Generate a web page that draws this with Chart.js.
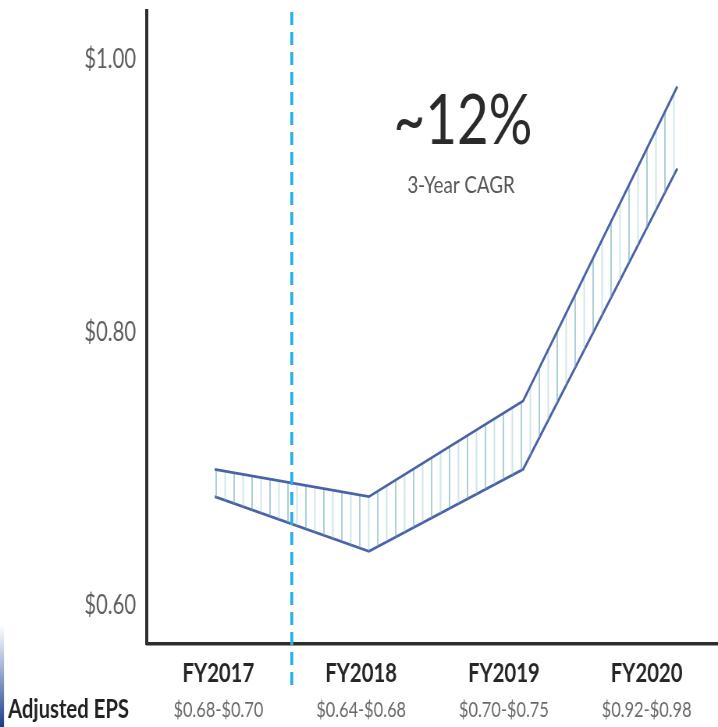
<!DOCTYPE html>
<html>
<head>
<meta charset="utf-8">
<script src="https://cdn.jsdelivr.net/npm/chart.js@4.4.1/dist/chart.umd.min.js"></script>
<style>
  html, body { margin: 0; padding: 0; background: #ffffff; overflow: hidden; }
  canvas { display: block; }
</style>
</head>
<body>
<!-- drawn on a wider backing canvas and shown narrower, giving the condensed slide lettering -->
<canvas id="eps" width="920" height="727" style="width:718px;height:727px"></canvas>
<script>
// Adjusted EPS guidance, low and high end of each range
const fiscalYears = ['FY2017', 'FY2018', 'FY2019', 'FY2020'];
const epsLow  = [0.68, 0.64, 0.70, 0.92];
const epsHigh = [0.70, 0.68, 0.75, 0.98];
const yTickValues = [0.60, 0.80, 1.00];
const rowLabel = 'Adjusted EPS';
const cagrLabel = '~12%';
const cagrCaption = '3-Year CAGR';
// dashed separator sits halfway between the first two fiscal years
const dividerAt = 0.5;

const money = v => '$' + Number(v).toFixed(2);
const epsRanges = epsLow.map((lo, i) => money(lo) + '-' + money(epsHigh[i]));

const canvas = document.getElementById('eps');
const ctx = canvas.getContext('2d');
const SX = canvas.width / 718; // horizontal factor between backing pixels and page pixels

// vertical hatching for the band between the two guidance lines
function hatchPattern() {
  const tile = document.createElement('canvas');
  tile.width = 23; tile.height = 8;
  const t = tile.getContext('2d');
  t.fillStyle = 'rgba(104,170,184,0.55)';
  t.fillRect(0, 0, 2, 8);
  t.fillStyle = 'rgba(140,196,206,0.42)';
  t.fillRect(11.5, 0, 2, 8);
  return ctx.createPattern(tile, 'repeat');
}

const noEdgePadding = s => {
  s.paddingTop = 0; s.paddingBottom = 0;
  s.paddingLeft = 0; s.paddingRight = 0;
};

const decorations = {
  id: 'decorations',
  afterDatasetsDraw(chart) {
    const { ctx, chartArea, scales } = chart;
    const x = scales.x2.getPixelForValue(dividerAt);
    ctx.save();
    ctx.strokeStyle = '#27b0e6';
    ctx.lineWidth = 3.8;
    ctx.setLineDash([13, 7]);
    ctx.beginPath();
    ctx.moveTo(x, chartArea.top + 1);
    ctx.lineTo(x, 690);
    ctx.stroke();
    ctx.restore();
  },
  afterDraw(chart) {
    const { ctx } = chart;
    ctx.save();
    ctx.textAlign = 'center';
    ctx.textBaseline = 'alphabetic';
    ctx.fillStyle = '#2a2a2a';
    ctx.font = '400 70px Lato';
    ctx.fillText(cagrLabel, 463 * SX, 144);
    ctx.fillStyle = '#555555';
    ctx.font = '400 24px Lato';
    ctx.fillText(cagrCaption, 461 * SX, 193);

    ctx.textAlign = 'left';
    ctx.fillStyle = '#222222';
    ctx.font = 'bold 26px Lato';
    ctx.fillText(rowLabel, 8 * SX, 718);

    // slide edge ornament at the lower left
    const g = ctx.createLinearGradient(0, 625, 0, 727);
    g.addColorStop(0, 'rgba(40,80,160,0)');
    g.addColorStop(1, '#1d3a84');
    ctx.fillStyle = g;
    ctx.fillRect(0, 625, 4 * SX, 102);
    ctx.restore();
  }
};

const lineColor = '#4a62a6';

new Chart(canvas, {
  type: 'line',
  data: {
    datasets: [
      {
        label: 'High',
        data: epsHigh.map((v, i) => ({ x: i, y: v })),
        borderColor: lineColor,
        borderWidth: 2.8,
        pointRadius: 0,
        tension: 0,
        fill: '+1',
        backgroundColor: hatchPattern(),
        xAxisID: 'x2',
        yAxisID: 'y'
      },
      {
        label: 'Low',
        data: epsLow.map((v, i) => ({ x: i, y: v })),
        borderColor: lineColor,
        borderWidth: 2.8,
        pointRadius: 0,
        tension: 0,
        fill: false,
        xAxisID: 'x2',
        yAxisID: 'y'
      }
    ]
  },
  options: {
    responsive: false,
    animation: false,
    events: [],
    layout: { padding: { top: 11, left: 0, right: 0, bottom: 0 } },
    plugins: {
      legend: { display: false },
      tooltip: { enabled: false }
    },
    scales: {
      x2: {
        type: 'linear',
        axis: 'x',
        display: false,
        min: -0.439,
        max: 3.264
      },
      x: {
        type: 'category',
        axis: 'x',
        position: 'bottom',
        weight: 0,
        labels: fiscalYears,
        offset: true,
        grid: { display: false, drawTicks: false },
        border: { display: true, color: '#2d2d2d', width: 3.5 },
        ticks: {
          padding: 14,
          color: '#262626',
          maxRotation: 0,
          autoSkip: false,
          font: { family: 'Lato', size: 26, weight: 'bold' }
        },
        afterFit: s => { s.height = 44; noEdgePadding(s); }
      },
      range: {
        type: 'category',
        axis: 'x',
        position: 'bottom',
        weight: 1,
        labels: epsRanges,
        offset: true,
        grid: { display: false, drawTicks: false },
        border: { display: false },
        ticks: {
          padding: 10,
          color: '#6a6a6a',
          maxRotation: 0,
          autoSkip: false,
          font: { family: 'Lato', size: 21, weight: '400' }
        },
        afterFit: s => { s.height = 39; noEdgePadding(s); }
      },
      y: {
        type: 'linear',
        position: 'left',
        min: 0.5722,
        max: 1.0353,
        afterBuildTicks: s => { s.ticks = yTickValues.map(v => ({ value: v })); },
        afterFit: s => { s.width = 147 * SX; noEdgePadding(s); },
        grid: { display: false, drawTicks: false },
        border: { display: true, color: '#2d2d2d', width: 4 },
        ticks: {
          padding: 14,
          color: '#5e5e5e',
          font: { family: 'Lato', size: 26, weight: '400' },
          callback: v => money(v)
        }
      }
    }
  },
  plugins: [decorations]
});
</script>
</body>
</html>
